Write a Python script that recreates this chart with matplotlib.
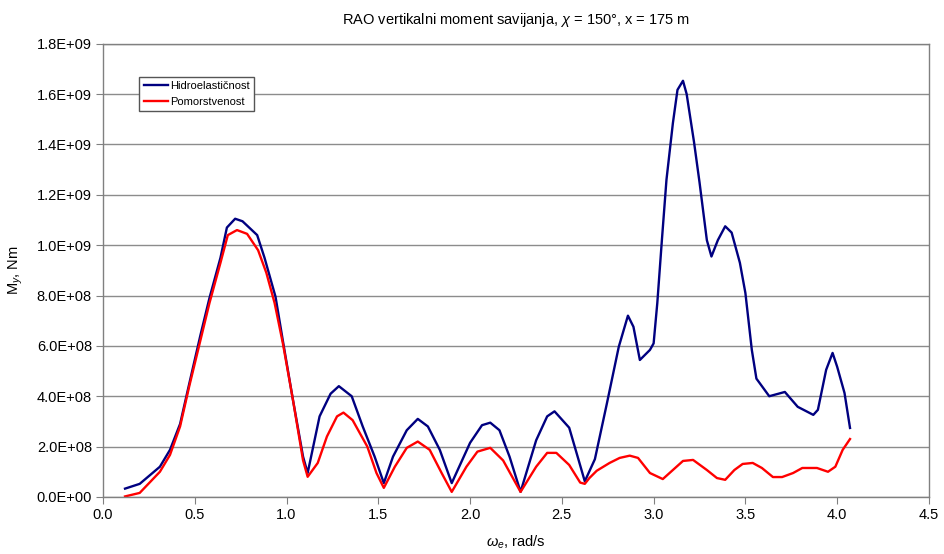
import matplotlib.pyplot as plt
from matplotlib.ticker import FuncFormatter, MultipleLocator

plt.rcParams['font.family'] = ['Liberation Sans', 'DejaVu Sans']
plt.rcParams['mathtext.fontset'] = 'custom'
plt.rcParams['mathtext.rm'] = 'Liberation Sans'
plt.rcParams['mathtext.it'] = 'Liberation Sans:italic'

# hidroelasticnost (blue)
omega_h = [0.12, 0.20, 0.31, 0.365, 0.42, 0.47, 0.53, 0.58, 0.64, 0.675,
           0.72, 0.76, 0.84, 0.88, 0.94, 0.98, 1.035, 1.09, 1.115, 1.18,
           1.24, 1.285, 1.355, 1.415, 1.48, 1.53, 1.58, 1.655, 1.715, 1.77,
           1.835, 1.90, 2.0, 2.065, 2.11, 2.16, 2.215, 2.275, 2.36, 2.42,
           2.46, 2.54, 2.59, 2.625, 2.68, 2.745, 2.81, 2.86, 2.89, 2.925,
           2.98, 3.0, 3.02, 3.045, 3.07, 3.105, 3.13, 3.16, 3.18, 3.22,
           3.25, 3.29, 3.315, 3.35, 3.39, 3.425, 3.47, 3.50, 3.535, 3.56,
           3.63, 3.715, 3.785, 3.87, 3.895, 3.94, 3.975, 4.0, 4.04, 4.07]
moment_h = [0.33, 0.52, 1.2, 1.87, 2.9, 4.5, 6.4, 7.9, 9.5, 10.7,
            11.05, 10.95, 10.4, 9.5, 7.95, 6.2, 3.85, 1.6, 0.95, 3.2,
            4.1, 4.4, 4.0, 2.8, 1.6, 0.55, 1.6, 2.65, 3.1, 2.8,
            1.87, 0.55, 2.15, 2.85, 2.95, 2.65, 1.6, 0.2, 2.25, 3.2,
            3.4, 2.75, 1.5, 0.62, 1.5, 3.7, 5.96, 7.2, 6.76, 5.44,
            5.84, 6.1, 7.7, 10.2, 12.6, 14.85, 16.17, 16.53, 16.0, 14.1,
            12.5, 10.2, 9.55, 10.2, 10.75, 10.5, 9.3, 8.1, 5.84, 4.7,
            4.0, 4.17, 3.58, 3.26, 3.46, 5.05, 5.72, 5.17, 4.13, 2.74]

# pomorstvenost (red)
omega_p = [0.12, 0.20, 0.31, 0.365, 0.42, 0.47, 0.53, 0.58, 0.64, 0.68,
           0.73, 0.785, 0.845, 0.89, 0.935, 0.98, 1.035, 1.09, 1.115, 1.17,
           1.22, 1.275, 1.31, 1.36, 1.44, 1.49, 1.53, 1.59, 1.655, 1.715,
           1.78, 1.845, 1.90, 1.98, 2.04, 2.11, 2.18, 2.275, 2.36, 2.42,
           2.47, 2.54, 2.60, 2.625, 2.65, 2.69, 2.76, 2.815, 2.87, 2.915,
           2.98, 3.05, 3.105, 3.16, 3.215, 3.29, 3.345, 3.39, 3.44, 3.485,
           3.54, 3.59, 3.65, 3.70, 3.76, 3.81, 3.89, 3.95, 3.99, 4.03, 4.07]
moment_p = [0.02, 0.16, 1.0, 1.67, 2.8, 4.4, 6.2, 7.7, 9.3, 10.4,
            10.6, 10.45, 9.8, 8.9, 7.7, 6.1, 3.85, 1.45, 0.8, 1.35,
            2.4, 3.2, 3.35, 3.05, 2.0, 0.95, 0.36, 1.2, 1.95, 2.2,
            1.87, 0.95, 0.2, 1.2, 1.8, 1.95, 1.45, 0.2, 1.2, 1.75,
            1.75, 1.27, 0.57, 0.52, 0.75, 1.04, 1.35, 1.55, 1.64, 1.55,
            0.95, 0.71, 1.07, 1.43, 1.47, 1.07, 0.75, 0.68, 1.07, 1.31,
            1.35, 1.15, 0.79, 0.79, 0.95, 1.15, 1.15, 1.0, 1.2, 1.87, 2.3]

scale = 1e8
moment_h = [v * scale for v in moment_h]
moment_p = [v * scale for v in moment_p]

fig = plt.figure(figsize=(9.45, 5.54), dpi=100)
ax = fig.add_axes([0.109, 0.103, 0.874, 0.818])

ax.plot(omega_h, moment_h, color='#000080', lw=1.7, solid_joinstyle='round',
        label='Hidroelastičnost')
ax.plot(omega_p, moment_p, color='#ff0000', lw=1.7, solid_joinstyle='round',
        label='Pomorstvenost')

ax.set_xlim(0, 4.5)
ax.set_ylim(0, 1.8e9)
ax.xaxis.set_major_locator(MultipleLocator(0.5))
ax.yaxis.set_major_locator(MultipleLocator(2e8))
ax.xaxis.set_major_formatter(FuncFormatter(lambda v, p: '%.1f' % v))
ax.yaxis.set_major_formatter(FuncFormatter(lambda v, p: '%.1E' % v))
ax.tick_params(direction='out', length=5, color='#808080', labelsize=10.5, pad=3)
ax.yaxis.grid(True, color='#8c8c8c', lw=1)
ax.set_axisbelow(True)
for s in ax.spines.values():
    s.set_color('#808080')
    s.set_linewidth(1)

ax.set_title(r'RAO vertikalni moment savijanja, $\chi$ = 150°, x = 175 m',
             fontsize=10.5, pad=14)
ax.set_xlabel(r'$\omega_e$, rad/s', fontsize=10.5, labelpad=8)
ax.set_ylabel(r'M$_y$, Nm', fontsize=10.5, labelpad=8)

leg = ax.legend(loc='upper left', bbox_to_anchor=(0.037, 0.94), fontsize=8,
                fancybox=False, framealpha=1, edgecolor='#555555',
                handlelength=2.2, borderpad=0.4, labelspacing=0.5,
                handletextpad=0.2)
leg.get_frame().set_linewidth(1)

fig.savefig('out.png', dpi=100)
